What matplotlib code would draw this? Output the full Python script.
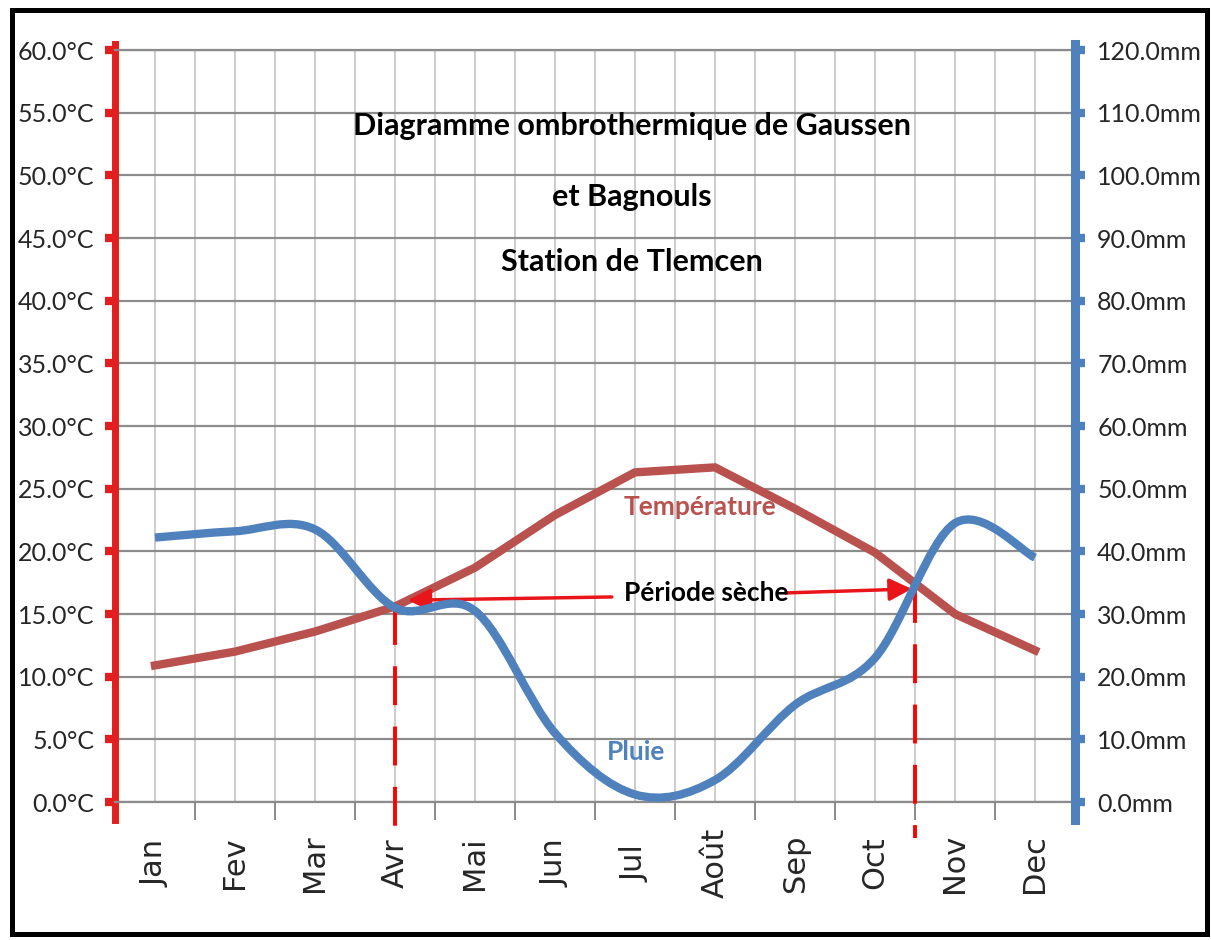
import numpy as np
import matplotlib
matplotlib.use("Agg")
import matplotlib.pyplot as plt
from matplotlib.path import Path
from matplotlib.patches import PathPatch, Rectangle

months = ["Jan", "Fev", "Mar", "Avr", "Mai", "Jun", "Jul", "Août", "Sep", "Oct", "Nov", "Dec"]
temperature = [10.9, 12.0, 13.6, 15.6, 18.7, 22.9, 26.3, 26.7, 23.4, 19.9, 15.0, 12.1]
pluie = [42.2, 43.2, 43.5, 31.0, 30.5, 11.0, 1.2, 3.5, 15.5, 23.0, 44.5, 39.0]
temp_ticks = list(range(0, 61, 5))
pluie_ticks = list(range(0, 121, 10))
# limites de la periode seche (position en mois, temperature au croisement)
dry_x = [3.0, 9.5]
dry_t = [15.6, 17.4]

RED = "#B9514E"
BLUE = "#4F81BD"
AXRED = "#E41E1E"
NARROW = ["Lato", "DejaVu Sans"]


def smooth_path(xs, ys):
    # courbe lissee facon Excel (Bezier type Catmull-Rom)
    n = len(xs)
    verts = [(xs[0], ys[0])]
    codes = [Path.MOVETO]
    for i in range(n - 1):
        a = max(i - 1, 0)
        b = min(i + 2, n - 1)
        c1 = (xs[i] + (xs[i + 1] - xs[a]) / 6, ys[i] + (ys[i + 1] - ys[a]) / 6)
        c2 = (xs[i + 1] - (xs[b] - xs[i]) / 6, ys[i + 1] - (ys[b] - ys[i]) / 6)
        verts += [c1, c2, (xs[i + 1], ys[i + 1])]
        codes += [Path.CURVE4] * 3
    return Path(verts, codes)


fig = plt.figure(figsize=(12.11, 9.40), dpi=100)
ax = fig.add_axes([115 / 1211, 1 - 802 / 940, 960 / 1211, 752 / 940])
x = np.arange(len(months))

ax.set_xlim(-0.5, 11.5)
ax.set_ylim(0, 60)
ax.set_yticks(temp_ticks)
ax.set_yticklabels([f"{v:.1f}°C" for v in temp_ticks], family=NARROW, fontsize=18)
ax.set_xticks(x)
ax.set_xticklabels(months, rotation=90, fontsize=22, va="center")
ax.set_xticks(np.arange(-0.5, 12, 1), minor=True)
ax.set_axisbelow(True)
ax.yaxis.grid(True, color="#8C8C8C", lw=1.6)
ax.xaxis.grid(True, which="both", color="#C4C4C4", lw=1.2)
ax.tick_params(axis="x", which="major", length=0, pad=44, labelcolor="#262626")
ax.tick_params(axis="x", which="minor", length=13, width=1.4, color="#8C8C8C")
ax.tick_params(axis="y", color=AXRED, labelcolor="#262626", length=7, width=6, pad=8)
for s in ["top", "bottom"]:
    ax.spines[s].set_color("#8C8C8C")
    ax.spines[s].set_linewidth(1.6)
ax.spines["right"].set_visible(False)
ax.spines["left"].set_color(AXRED)
ax.spines["left"].set_linewidth(5)
ax.spines["left"].set_bounds(-1.4, 60.5)

ax.plot(x, temperature, color=RED, lw=6, solid_joinstyle="miter", zorder=3)

ax2 = ax.twinx()
ax2.set_ylim(0, 120)
ax2.set_yticks(pluie_ticks)
ax2.set_yticklabels([f"{v:.1f}mm" for v in pluie_ticks], family=NARROW, fontsize=18)
ax2.tick_params(axis="y", color=BLUE, labelcolor="#262626", length=7, width=6, pad=9)
for s in ["top", "bottom", "left"]:
    ax2.spines[s].set_visible(False)
ax2.spines["right"].set_color(BLUE)
ax2.spines["right"].set_linewidth(6.5)
ax2.spines["right"].set_bounds(-2.8, 121)
ax2.add_patch(PathPatch(smooth_path(x, pluie), facecolor="none", edgecolor=BLUE, lw=6, zorder=2))

# periode seche
for dx, dt in zip(dry_x, dry_t):
    ax.plot([dx, dx], [dt, -2.9], color="#FF0000", lw=2.8, ls=(0, (10, 5.5)), clip_on=False, zorder=4)
ax.annotate("", xy=(3.16, 16.1), xytext=(5.71, 16.36),
            arrowprops=dict(arrowstyle="-|>", color="#E8161B", lw=2.5, mutation_scale=34, shrinkA=0, shrinkB=0))
ax.annotate("", xy=(9.46, 17.0), xytext=(7.88, 16.68),
            arrowprops=dict(arrowstyle="-|>", color="#E8161B", lw=2.5, mutation_scale=34, shrinkA=0, shrinkB=0))
ax.text(6.89, 16.7, "Période sèche", ha="center", va="center", fontsize=19,
        fontweight="bold", family=NARROW, color="black")
ax.text(6.81, 23.5, "Température", ha="center", va="center", fontsize=19,
        fontweight="bold", family=NARROW, color=RED)
ax.text(6.01, 4.0, "Pluie", ha="center", va="center", fontsize=19,
        fontweight="bold", family=NARROW, color=BLUE)

# titre
ax.text(5.96, 53.9, "Diagramme ombrothermique de Gaussen", ha="center", va="center",
        fontsize=22, fontweight="bold", family=NARROW)
ax.text(5.96, 48.3, "et Bagnouls", ha="center", va="center",
        fontsize=22, fontweight="bold", family=NARROW)
ax.text(5.96, 43.1, "Station de Tlemcen", ha="center", va="center",
        fontsize=22, fontweight="bold", family=NARROW)

fig.patches.append(Rectangle((12 / 1211, 6 / 940), 1195 / 1211, 924 / 940,
                             transform=fig.transFigure, fill=False, lw=3.6, ec="black"))

fig.savefig("out.png", dpi=100)
